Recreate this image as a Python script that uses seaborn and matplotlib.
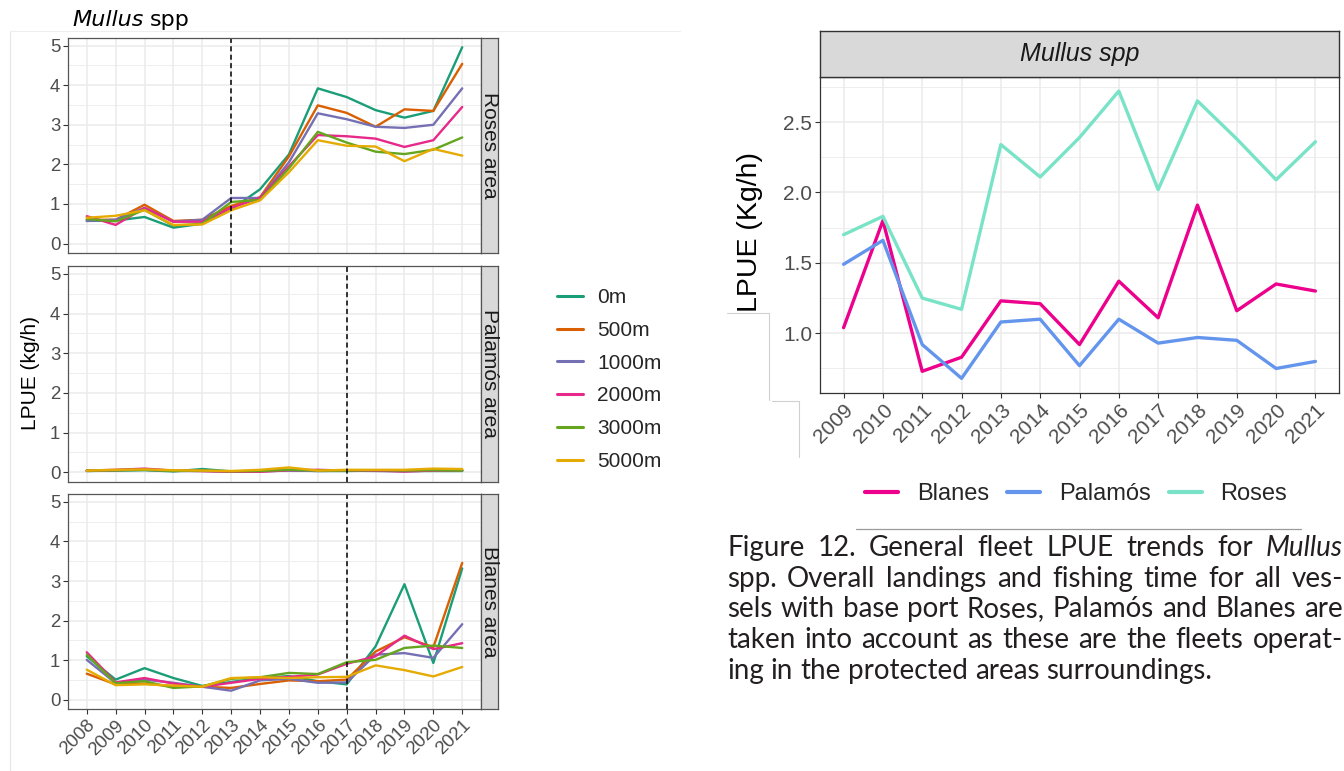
import numpy as np
import pandas as pd
import matplotlib
matplotlib.use("Agg")
import matplotlib.pyplot as plt
import seaborn as sns
from matplotlib.lines import Line2D
from matplotlib.ticker import FixedLocator

# ---------------- data ----------------
years_left = list(range(2008, 2022))
depths = ["0m", "500m", "1000m", "2000m", "3000m", "5000m"]

roses_0m    = [0.57, 0.58, 0.67, 0.40, 0.50, 0.86, 1.37, 2.25, 3.92, 3.70, 3.37, 3.18, 3.35, 4.96]
roses_500m  = [0.60, 0.60, 0.98, 0.57, 0.60, 0.95, 1.17, 2.20, 3.49, 3.30, 2.95, 3.39, 3.35, 4.54]
roses_1000m = [0.57, 0.60, 0.90, 0.55, 0.60, 1.15, 1.15, 2.05, 3.29, 3.14, 2.95, 2.92, 3.00, 3.92]
roses_2000m = [0.69, 0.47, 0.90, 0.55, 0.55, 0.90, 1.15, 1.95, 2.74, 2.71, 2.65, 2.44, 2.61, 3.45]
roses_3000m = [0.62, 0.56, 0.85, 0.45, 0.50, 1.05, 1.10, 1.90, 2.82, 2.55, 2.32, 2.26, 2.37, 2.68]
roses_5000m = [0.65, 0.70, 0.84, 0.47, 0.48, 0.84, 1.09, 1.80, 2.61, 2.47, 2.45, 2.08, 2.39, 2.22]

palamos_0m    = [0.03, 0.04, 0.05, 0.02, 0.08, 0.02, 0.03, 0.05, 0.03, 0.03, 0.04, 0.03, 0.03, 0.03]
palamos_500m  = [0.04, 0.05, 0.07, 0.04, 0.03, 0.02, 0.03, 0.06, 0.04, 0.05, 0.04, 0.03, 0.05, 0.05]
palamos_1000m = [0.03, 0.05, 0.06, 0.03, 0.03, 0.02, 0.02, 0.04, 0.03, 0.04, 0.03, 0.02, 0.04, 0.04]
palamos_2000m = [0.04, 0.06, 0.09, 0.04, 0.03, 0.01, 0.01, 0.05, 0.06, 0.04, 0.04, 0.02, 0.04, 0.05]
palamos_3000m = [0.04, 0.05, 0.06, 0.03, 0.04, 0.02, 0.03, 0.06, 0.04, 0.04, 0.05, 0.04, 0.05, 0.04]
palamos_5000m = [0.04, 0.06, 0.07, 0.05, 0.04, 0.03, 0.06, 0.12, 0.04, 0.06, 0.06, 0.06, 0.09, 0.08]

blanes_0m    = [1.10, 0.51, 0.80, 0.55, 0.35, 0.45, 0.55, 0.60, 0.47, 0.39, 1.35, 2.92, 0.93, 3.32]
blanes_500m  = [0.66, 0.39, 0.41, 0.34, 0.33, 0.30, 0.40, 0.49, 0.47, 0.51, 1.22, 1.58, 1.33, 3.46]
blanes_1000m = [1.01, 0.42, 0.51, 0.43, 0.33, 0.23, 0.49, 0.53, 0.43, 0.44, 1.14, 1.18, 1.06, 1.91]
blanes_2000m = [1.20, 0.44, 0.55, 0.41, 0.33, 0.43, 0.53, 0.58, 0.64, 0.91, 1.10, 1.62, 1.28, 1.43]
blanes_3000m = [1.14, 0.42, 0.47, 0.30, 0.34, 0.53, 0.57, 0.68, 0.65, 0.95, 1.01, 1.31, 1.37, 1.31]
blanes_5000m = [0.76, 0.37, 0.39, 0.36, 0.33, 0.55, 0.57, 0.55, 0.57, 0.58, 0.87, 0.75, 0.59, 0.83]

area_names = ["Roses area", "Palamós area", "Blanes area"]
reserve_year = [2013, 2017, 2017]

years_right = list(range(2009, 2022))
ports = ["Blanes", "Palamós", "Roses"]
lpue_blanes  = [1.04, 1.80, 0.73, 0.83, 1.23, 1.21, 0.92, 1.37, 1.11, 1.91, 1.16, 1.35, 1.30]
lpue_palamos = [1.49, 1.66, 0.92, 0.68, 1.08, 1.10, 0.77, 1.10, 0.93, 0.97, 0.95, 0.75, 0.80]
lpue_roses   = [1.70, 1.83, 1.25, 1.17, 2.34, 2.11, 2.39, 2.72, 2.02, 2.65, 2.38, 2.09, 2.36]

caption_lines = [
    "Figure 12. General fleet LPUE trends for Mullus",
    "spp. Overall landings and fishing time for all ves-",
    "sels with base port Roses, Palamós and Blanes are",
    "taken into account as these are the fleets operat-",
    "ing in the protected areas surroundings.",
]

# ---------------- long tables ----------------
area_series = {
    "Roses area": [roses_0m, roses_500m, roses_1000m, roses_2000m, roses_3000m, roses_5000m],
    "Palamós area": [palamos_0m, palamos_500m, palamos_1000m, palamos_2000m, palamos_3000m, palamos_5000m],
    "Blanes area": [blanes_0m, blanes_500m, blanes_1000m, blanes_2000m, blanes_3000m, blanes_5000m],
}
rows = []
for area, series in area_series.items():
    for d, vals in zip(depths, series):
        for yr, v in zip(years_left, vals):
            rows.append((area, d, yr, v))
df_left = pd.DataFrame(rows, columns=["area", "depth", "year", "lpue"])

rows = []
for p, vals in zip(ports, [lpue_blanes, lpue_palamos, lpue_roses]):
    for yr, v in zip(years_right, vals):
        rows.append((p, yr, v))
df_right = pd.DataFrame(rows, columns=["port", "year", "lpue"])

# ---------------- figure ----------------
W, H = 1344, 771
sns.set_theme(style="white")
plt.rcParams["font.family"] = ["Liberation Sans", "DejaVu Sans"]

fig = plt.figure(figsize=(W / 100, H / 100), dpi=100)
fig.patch.set_facecolor("white")
renderer = fig.canvas.get_renderer()


def rect(x0, y0, x1, y1):
    return [x0 / W, 1 - y1 / H, (x1 - x0) / W, (y1 - y0) / H]


def fline(x0, y0, x1, y1, color, lw=0.8):
    fig.add_artist(Line2D([x0 / W, x1 / W], [1 - y0 / H, 1 - y1 / H],
                          transform=fig.transFigure, color=color, lw=lw))


def style_ax(ax, xmaj, ymaj, ymin, fs, border="#555555"):
    ax.set_facecolor("white")
    ax.xaxis.set_major_locator(FixedLocator(xmaj))
    ax.yaxis.set_major_locator(FixedLocator(ymaj))
    ax.yaxis.set_minor_locator(FixedLocator(ymin))
    ax.grid(which="major", color="#EBEBEB", lw=1.1)
    ax.grid(which="minor", axis="y", color="#EBEBEB", lw=0.6)
    ax.set_axisbelow(True)
    for s in ax.spines.values():
        s.set_visible(True)
        s.set_color(border)
        s.set_linewidth(0.9)
    ax.tick_params(which="major", length=3.5, width=0.8, color="#333333",
                   labelsize=fs, labelcolor="#4D4D4D", pad=2, bottom=True, left=True)
    ax.tick_params(which="minor", length=0, left=False, bottom=False)
    ax.set_xlabel("")
    ax.set_ylabel("")


# ---------- left chart ----------
dark2 = sns.color_palette("Dark2", 6)
panel_y = [(37.7, 253.0), (266.0, 481.7), (494.0, 709.3)]
left_handles = None
for i, (area, (y0, y1)) in enumerate(zip(area_names, panel_y)):
    ax = fig.add_axes(rect(68, y0, 481, y1))
    sub = df_left[df_left["area"] == area]
    sns.lineplot(data=sub, x="year", y="lpue", hue="depth", hue_order=depths,
                 palette=dark2, lw=1.7, ax=ax, legend=(i == 0))
    if i == 0:
        left_handles, left_labels = ax.get_legend_handles_labels()
        ax.get_legend().remove()
    ax.axvline(reserve_year[i], color="black", lw=1.1, ls=(0, (3.3, 2.2)))
    ax.set_xlim(2007.35, 2021.65)
    ax.set_ylim(-0.24, 5.2)
    style_ax(ax, years_left, [0, 1, 2, 3, 4, 5], np.arange(0.5, 5.0, 1.0), 13.4)
    ax.set_yticklabels(["0", "1", "2", "3", "4", "5"])
    if i < 2:
        ax.tick_params(axis="x", bottom=False, labelbottom=False)
    else:
        ax.set_xticklabels([str(y) for y in years_left], rotation=45, ha="right",
                           rotation_mode="anchor")
    sax = fig.add_axes(rect(481, y0, 498, y1))
    sax.set_facecolor("#D9D9D9")
    sax.set_xticks([])
    sax.set_yticks([])
    for s in sax.spines.values():
        s.set_visible(True)
        s.set_color("#555555")
        s.set_linewidth(0.9)
    sax.text(0.5, 0.5, area, rotation=-90, ha="center", va="center",
             fontsize=15, color="#1A1A1A", transform=sax.transAxes)

fig.text(30 / W, 1 - 373 / H, "LPUE (kg/h)", rotation=90, ha="center", va="center",
         fontsize=15, color="black")
t_it = fig.text(72 / W, 1 - 26.5 / H, "Mullus", fontsize=16, style="italic",
                family="DejaVu Sans", ha="left", va="baseline", color="black")
it_w = t_it.get_window_extent(renderer).width
fig.text((72 + it_w + 6) / W, 1 - 26.5 / H, "spp", fontsize=16,
         family="DejaVu Sans", ha="left", va="baseline", color="black")

for h in left_handles:
    h.set_linewidth(2.2)
fig.legend(left_handles, left_labels, loc="center left",
           bbox_to_anchor=(557 / W, 1 - 379.5 / H), frameon=False, fontsize=15,
           handlelength=1.25, handletextpad=0.67, labelspacing=0.66,
           borderpad=0, borderaxespad=0)

# frame lines around the left chart
fline(10, 31, 10, 771, "#E6E6E6")
fline(10, 31, 680, 31, "#EEEEEE")

# ---------- right chart ----------
port_colors = {"Blanes": "#EC008C", "Palamós": "#6495ED", "Roses": "#78E3C6"}
axr = fig.add_axes(rect(820, 76.7, 1339, 392.7))
sns.lineplot(data=df_right, x="year", y="lpue", hue="port", hue_order=ports,
             palette=port_colors, lw=2.4, ax=axr, legend=True)
right_handles, right_labels = axr.get_legend_handles_labels()
axr.get_legend().remove()
axr.set_xlim(2008.4, 2021.6)
axr.set_ylim(0.578, 2.822)
style_ax(axr, years_right, [1.0, 1.5, 2.0, 2.5], [0.75, 1.25, 1.75, 2.25, 2.75], 15,
         border="#333333")
axr.set_yticklabels(["1.0", "1.5", "2.0", "2.5"])
axr.set_xticklabels([str(y) for y in years_right], rotation=45, ha="right",
                    rotation_mode="anchor")

sr = fig.add_axes(rect(820, 30.7, 1339, 76.7))
sr.set_facecolor("#D9D9D9")
sr.set_xticks([])
sr.set_yticks([])
for s in sr.spines.values():
    s.set_visible(True)
    s.set_color("#333333")
    s.set_linewidth(1.0)
sr.text(0.5, 0.5, "Mullus spp", style="italic", ha="center", va="center",
        fontsize=18, color="#1A1A1A", transform=sr.transAxes)

fig.text(750 / W, 1 - 232 / H, "LPUE (Kg/h)", rotation=90, ha="center", va="center",
         fontsize=20.5, color="black")

for h in right_handles:
    h.set_linewidth(3.0)
fig.legend(right_handles, right_labels, loc="center", ncol=3,
           bbox_to_anchor=(1076 / W, 1 - 494 / H), frameon=False, fontsize=17,
           handlelength=1.42, handletextpad=0.77, columnspacing=0.77,
           borderpad=0, borderaxespad=0)

# leftover page-crop edges
fline(727, 313, 769, 313, "#D0D0D0")
fline(769, 313, 769, 400, "#D0D0D0")
fline(772, 400.7, 799, 400.7, "#D0D0D0")
fline(799, 400.7, 799, 457, "#D0D0D0")

# separator above caption
fline(856, 529, 1301, 529, "#9A9A9A", lw=0.9)

# ---------- justified caption ----------
cap_font = ["Lato", "DejaVu Sans"]
cap_fs = 20.0
cap_color = "#231F20"


def text_width(s, style):
    t = fig.text(0, 0, s, fontsize=cap_fs, family=cap_font, style=style)
    w = t.get_window_extent(renderer).width
    t.remove()
    return w


space_w = text_width("x x", "normal") - text_width("xx", "normal")
x_left, x_right = 727.0, 1343.0
baselines = [555.7, 586.7, 617.0, 648.0, 679.0]
for li, (line, yb) in enumerate(zip(caption_lines, baselines)):
    words = line.split(" ")
    styles = ["italic" if w == "Mullus" else "normal" for w in words]
    widths = [text_width(w, s) for w, s in zip(words, styles)]
    if li < len(caption_lines) - 1 and len(words) > 1:
        gap = (x_right - x_left - sum(widths)) / (len(words) - 1)
        gap = max(gap, 0.6 * space_w)
    else:
        gap = space_w
    x = x_left
    for w, s, wd in zip(words, styles, widths):
        fig.text(x / W, 1 - yb / H, w, fontsize=cap_fs, family=cap_font, style=s,
                 ha="left", va="baseline", color=cap_color)
        x += wd + gap

fig.savefig("out.png", dpi=100, facecolor="white")
